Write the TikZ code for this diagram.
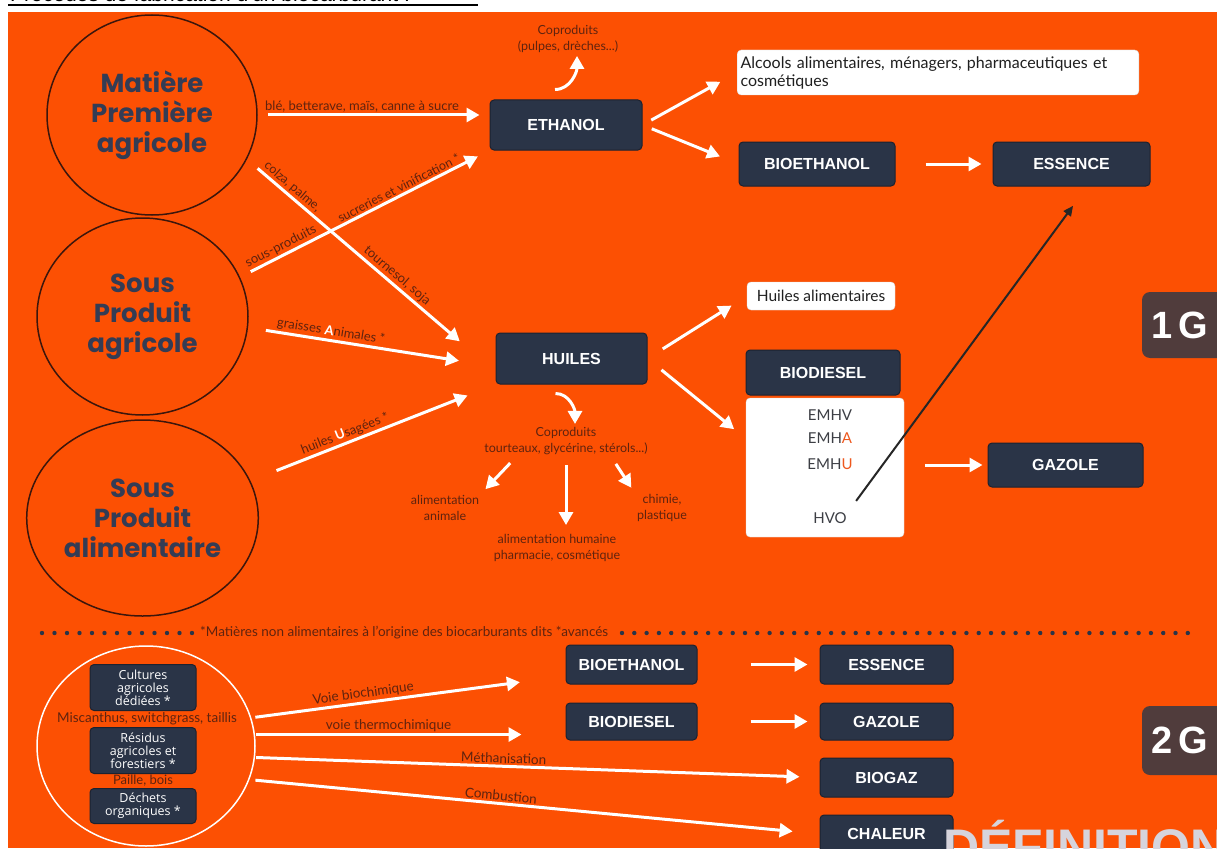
\documentclass[tikz,border=0pt]{standalone}
\usepackage{fontspec}
\setmainfont{Lato}
\newfontfamily\boxfont{Liberation Sans}
\newfontfamily\ringfont{Poppins}
\newfontfamily\tagfont{Open Sans}
\usepackage{tikz}
\usetikzlibrary{arrows.meta}
\usetikzlibrary{shapes.geometric,calc}
\definecolor{bgorange}{RGB}{252,80,3}
\definecolor{navybox}{RGB}{42,52,71}
\definecolor{navyedge}{RGB}{28,34,48}
\definecolor{ringink}{RGB}{52,60,84}
\definecolor{ringline}{RGB}{60,22,12}
\definecolor{lblbrown}{RGB}{95,35,15}
\definecolor{gbrown}{RGB}{80,60,60}
\definecolor{emhgray}{RGB}{60,62,68}
\definecolor{emhred}{RGB}{238,88,30}
\definecolor{defgray}{RGB}{214,212,220}

\tikzset{
  fuelbox/.style={draw=navyedge,fill=navybox,rounded corners=4pt,line width=1pt,
    text=white,inner sep=0pt,font=\boxfont\bfseries\fontsize{16}{18}\selectfont},
  innerbox/.style={draw=navyedge,fill=navybox,rounded corners=4pt,line width=1pt,
    text=white,inner sep=0pt,align=center,minimum width=106pt,
    font=\tagfont\fontsize{12.5}{13}\selectfont},
  whitebox/.style={draw=white!85!black,fill=white,rounded corners=4pt,
    text=black!88,font=\fontsize{16}{18}\selectfont},
  srcring/.style={ellipse,draw=ringline,line width=1.5pt,align=center,text=ringink,
    font=\ringfont\bfseries\fontsize{26}{30}\selectfont},
  genbox/.style={fill=gbrown,rounded corners=8pt,text=white,minimum width=90pt,
    minimum height=66pt,font=\boxfont\bfseries\fontsize{38}{40}\selectfont},
  flow/.style={draw=white,line width=3pt,-{Triangle[length=13pt,width=14pt]}},
  pathlbl/.style={sloped,above,inner sep=1.5pt,text=lblbrown,
    font=\fontsize{13}{14}\selectfont},
  darknote/.style={align=center,text=lblbrown,font=\fontsize{12.5}{15.5}\selectfont},
  emhline/.style={text=emhgray,font=\fontsize{15}{17}\selectfont}
}

\begin{document}
\begin{tikzpicture}[x=1pt,y=-1pt]
  % page and cut-off title
  \useasboundingbox (0,0) rectangle (1217,848);
  \fill[white] (0,0) rectangle (1217,848);
  \fill[bgorange] (8,12) rectangle (1217,848);
  \node[anchor=base west,inner sep=0pt,font=\boxfont\fontsize{21}{21}\selectfont]
    (title) at (10,1.5) {Procédés de fabrication d'un biocarburant :};
  \draw[line width=2pt] (8,5.5) -- (478,5.5);

  % 1G: raw materials
  \node[srcring,minimum width=210pt,minimum height=200pt] (mp) at (152,115)
    {Matière\\Première\\agricole};
  \node[srcring,minimum width=211pt,minimum height=197pt] (spa) at (142.5,316.5)
    {Sous\\Produit\\agricole};
  \node[srcring,minimum width=211pt,minimum height=196pt] (spal) at (142.5,518)
    {Sous\\Produit\\alimentaire};

  % 1G: products
  \node[fuelbox,minimum width=152pt,minimum height=50pt] (eth) at (566,125) {ETHANOL};
  \node[fuelbox,minimum width=151pt,minimum height=51pt] (hui) at (571.5,358.5) {HUILES};
  \node[whitebox,anchor=west,text width=395pt,align=left,minimum height=45pt]
    (alc) at (737,72.5) {Alcools alimentaires, ménagers, pharmaceutiques et\\cosmétiques};
  \node[fuelbox,minimum width=156pt,minimum height=44pt] (bioe) at (817,164) {BIOETHANOL};
  \node[fuelbox,minimum width=157pt,minimum height=44pt] (ess) at (1071.5,164) {ESSENCE};
  \node[whitebox,minimum width=148pt,minimum height=28pt,inner sep=0pt,
    font=\fontsize{15.5}{17}\selectfont] (halim) at (821,296) {Huiles alimentaires};
  \node[fuelbox,minimum width=154pt,minimum height=45pt] (biod) at (823,372.5) {BIODIESEL};
  \node[whitebox,minimum width=158pt,minimum height=139pt] (emh) at (825,467.5) {};
  \node[emhline] (emhv) at (830,415) {EMHV};
  \node[emhline] (emha) at (830,438) {EMH\textcolor{emhred}{A}};
  \node[emhline] (emhu) at (830,464) {EMH\textcolor{emhred}{U}};
  \node[emhline] (hvo) at (830,518) {HVO};
  \node[fuelbox,minimum width=155pt,minimum height=44pt] (gaz) at (1065.5,465) {GAZOLE};
  \node[genbox] (g1) at (1187,325) {1\,G\hspace*{14pt}};

  % co-products
  \node[darknote] (cop1) at (568,39) {Coproduits\\(pulpes, drèches...)};
  \node[darknote] (cop2) at (566,441) {Coproduits\\tourteaux, glycérine, stérols...)};
  \node[darknote] (aa) at (445,508) {alimentation\\animale};
  \node[darknote] (ah) at (557,548) {alimentation humaine\\pharmacie, cosmétique};
  \node[darknote] (ch) at (662,508) {chimie,\\plastique};

  % 1G flows
  \draw[flow,shorten <=10pt,shorten >=10pt] (mp.east) -- (mp.east -| eth.west)
    node[pathlbl,pos=0.45] (lble) {blé, betterave, maïs, canne à sucre};
  \draw[flow,shorten <=12pt,shorten >=13pt] (spa.22) -- (eth.south west)
    node[pathlbl,pos=0.18] (lsp) {sous-produits}
    node[pathlbl,pos=0.65,font=\fontsize{12.5}{14}\selectfont] (lsv) {sucreries et vinification *};
  \draw[flow,shorten <=14pt,shorten >=47pt] (mp.-25) -- (hui.190)
    node[pathlbl,pos=0.16,font=\fontsize{12.5}{14}\selectfont] (lcol) {colza, palme,}
    node[pathlbl,pos=0.58] (ltou) {tournesol, soja};
  \draw[flow,shorten <=18pt,shorten >=37pt] (spa.-6) -- (hui.186)
    node[pathlbl,pos=0.33] (lgra) {graisses \textcolor{white}{\textbf{A}}nimales *};
  \draw[flow,shorten <=28pt,shorten >=30pt] (spal.19) -- (hui.south west)
    node[pathlbl,pos=0.40] (lusa) {huiles \textcolor{white}{\textbf{U}}sagées *};
  \draw[flow] ([shift={(-11,-10)}]eth.north) to[out=0,in=-90] ([xshift=9pt]cop1.south);
  \draw[flow,shorten <=10pt,shorten >=19pt] (eth.east) -- (alc.west);
  \draw[flow,shorten <=10pt,shorten >=20pt] (eth.east) -- (bioe.west);
  \draw[flow,shorten <=30pt,shorten >=11pt] (bioe.east) -- (ess.west);
  \draw[flow,shorten <=18pt,shorten >=18pt] (hui.east) -- (halim.west);
  \draw[flow,shorten <=18pt,shorten >=15pt] (hui.east) -- (emh.160);
  \draw[flow,shorten <=21pt,shorten >=5pt] (gaz.west -| emh.east) -- (gaz.west);
  \draw[flow] ([shift={(-16,9)}]hui.south) to[out=0,in=90] ([xshift=9pt]cop2.north);
  \draw[flow,shorten <=7pt,shorten >=4pt] ([xshift=-51pt]cop2.south) -- (aa.north east);
  \draw[flow,shorten <=7pt,shorten >=6pt] (cop2.south) -- (cop2.south |- ah.north);
  \draw[flow,shorten <=7pt,shorten >=4pt] ([xshift=46pt]cop2.south) -- (ch.north west);
  \draw[black!85,line width=2pt,-{Triangle[length=10pt,width=9pt]},
    shorten <=10pt,shorten >=24pt] (hvo.north east) -- (ess.-55);

  % separator
  \foreach \i in {0,...,12}
    \fill[navybox] ({42+12.5*\i},633) circle (2.2pt);
  \node[anchor=west,inner sep=0pt,text=lblbrown,font=\fontsize{13.5}{15}\selectfont]
    (avnote) at (200,633)
    {*Matières non alimentaires à l'origine des biocarburants dits *avancés};
  \foreach \i in {0,...,46}
    \fill[navybox] ({622+12.3*\i},633) circle (2.2pt);

  % 2G
  \node[ellipse,draw=white,line width=1.5pt,minimum width=218pt,minimum height=200pt]
    (gen2) at (146,746) {};
  \node[innerbox,minimum height=46pt] (cult) at (143,687.5)
    {Cultures\\agricoles\\dédiées *};
  \node[darknote,font=\fontsize{13.5}{15}\selectfont] (misc) at (147,718.5)
    {Miscanthus, switchgrass, taillis};
  \node[innerbox,minimum height=46pt] (resi) at (143,750.5)
    {Résidus\\agricoles et\\forestiers *};
  \node[darknote,font=\fontsize{13}{15}\selectfont] (paille) at (143,781) {Paille, bois};
  \node[innerbox,minimum height=35pt] (dech) at (143,806) {Déchets\\organiques *};

  \node[fuelbox,minimum width=131pt,minimum height=39pt] (bioe2) at (631.5,664.5) {BIOETHANOL};
  \node[fuelbox,minimum width=133pt,minimum height=39pt] (ess2) at (886.5,664.5) {ESSENCE};
  \node[fuelbox,minimum width=131pt,minimum height=37pt] (biod2) at (631.5,721.5) {BIODIESEL};
  \node[fuelbox,minimum width=133pt,minimum height=37pt] (gaz2) at (886.5,721.5) {GAZOLE};
  \node[fuelbox,minimum width=133pt,minimum height=39pt] (biog) at (886.5,777.5) {BIOGAZ};
  \node[fuelbox,minimum width=133pt,minimum height=38pt] (chal) at (886.5,834) {CHALEUR};
  \node[genbox,minimum height=69pt] (g2) at (1187,740.5) {2\,G\hspace*{14pt}};

  \draw[flow,shorten <=4pt,shorten >=46pt] (gen2.15) -- (bioe2.190)
    node[pathlbl,pos=0.36,font=\fontsize{13.5}{15}\selectfont] (lbio) {Voie biochimique};
  \draw[flow,shorten <=1pt,shorten >=44pt] (gen2.6) -- (gen2.6 -| biod2.west)
    node[pathlbl,pos=0.43,font=\fontsize{13.5}{15}\selectfont] (lthe) {voie thermochimique};
  \draw[flow,shorten <=1pt,shorten >=20pt] (gen2.-6) -- (biog.west)
    node[pathlbl,pos=0.44,font=\fontsize{13.5}{15}\selectfont] (lmet) {Méthanisation};
  \draw[flow,shorten <=6pt,shorten >=27pt] (gen2.-18) -- (chal.west)
    node[pathlbl,pos=0.44,font=\fontsize{13.5}{15}\selectfont] (lcom) {Combustion};
  \draw[flow,shorten <=53pt,shorten >=12pt] (bioe2.east) -- (ess2.west);
  \draw[flow,shorten <=53pt,shorten >=12pt] (biod2.east) -- (gaz2.west);

  % cut-off heading at the bottom
  \node[anchor=base west,inner sep=0pt,text=defgray,
    font=\boxfont\bfseries\fontsize{50}{50}\selectfont] (defin) at (943,864) {DÉFINITION};
\end{tikzpicture}
\end{document}
